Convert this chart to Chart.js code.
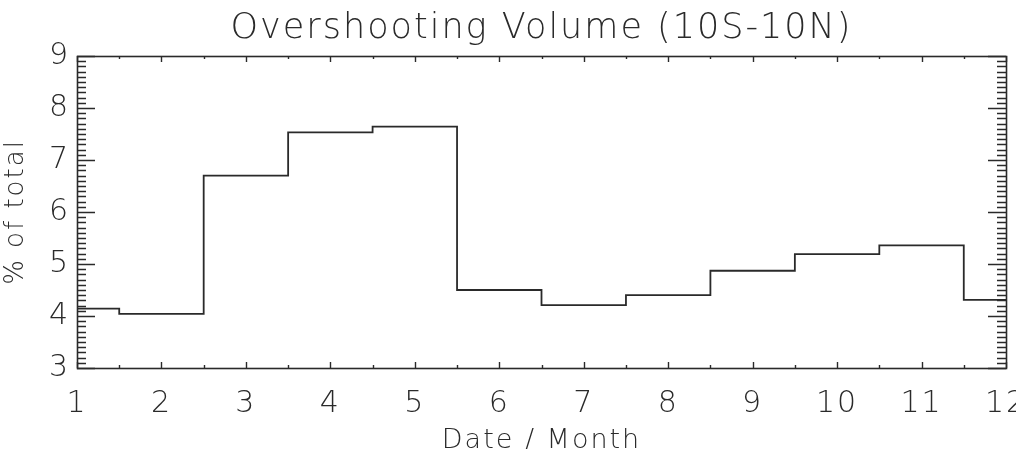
<!DOCTYPE html>
<html>
<head>
<meta charset="utf-8">
<script src="https://cdn.jsdelivr.net/npm/chart.js@4.4.1/dist/chart.umd.min.js"></script>
<style>
  html, body { margin: 0; padding: 0; background: #ffffff; }
  #wrap { width: 1016px; height: 449px; position: relative; }
</style>
</head>
<body>
<div id="wrap"><canvas id="c" width="1016" height="449"></canvas></div>
<script>
// ---- data ----
const MONTHS = [1, 2, 3, 4, 5, 6, 7, 8, 9, 10, 11, 12];
const OVERSHOOT_PCT = [4.14, 4.04, 6.70, 7.53, 7.64, 4.50, 4.21, 4.40, 4.87, 5.19, 5.36, 4.31];
const X_TICKS = [1, 2, 3, 4, 5, 6, 7, 8, 9, 10, 11, 12];
const Y_TICKS = [3, 4, 5, 6, 7, 8, 9];
const TITLE = 'Overshooting Volume (10S-10N)';
const X_TITLE = 'Date / Month';
const Y_TITLE = '% of total';

const FONT = '"DejaVu Sans", "Liberation Sans", sans-serif';
const INK = '#2a2a2a';

// IDL-style inward ticks + frame
const idlAxes = {
  id: 'idlAxes',
  beforeDraw(chart) { chart.ctx.letterSpacing = '2px'; },
  afterDatasetsDraw(chart) {
    const ctx = chart.ctx, ca = chart.chartArea;
    const xs = chart.scales.x, ys = chart.scales.y;
    ctx.save();
    ctx.letterSpacing = '0px';
    ctx.strokeStyle = INK;
    ctx.lineWidth = 1.4;
    ctx.beginPath();
    for (let i = 0; i < X_TICKS.length; i++) {
      const px = Math.round(xs.getPixelForValue(X_TICKS[i])) + 0.5;
      ctx.moveTo(px, ca.bottom); ctx.lineTo(px, ca.bottom - 6);
      ctx.moveTo(px, ca.top); ctx.lineTo(px, ca.top + 6);
      if (i < X_TICKS.length - 1) {
        const pm = Math.round(xs.getPixelForValue((X_TICKS[i] + X_TICKS[i + 1]) / 2)) + 0.5;
        ctx.moveTo(pm, ca.bottom); ctx.lineTo(pm, ca.bottom - 3);
        ctx.moveTo(pm, ca.top); ctx.lineTo(pm, ca.top + 3);
      }
    }
    for (let i = 0; i < Y_TICKS.length; i++) {
      const py = Math.round(ys.getPixelForValue(Y_TICKS[i])) + 0.5;
      ctx.moveTo(ca.left, py); ctx.lineTo(ca.left + 18, py);
      ctx.moveTo(ca.right, py); ctx.lineTo(ca.right - 18, py);
      if (i < Y_TICKS.length - 1) {
        for (let k = 1; k < 10; k++) {
          const v = Y_TICKS[i] + (Y_TICKS[i + 1] - Y_TICKS[i]) * k / 10;
          const pm = Math.round(ys.getPixelForValue(v)) + 0.5;
          ctx.moveTo(ca.left, pm); ctx.lineTo(ca.left + 9, pm);
          ctx.moveTo(ca.right, pm); ctx.lineTo(ca.right - 9, pm);
        }
      }
    }
    ctx.stroke();
    ctx.lineWidth = 1.6;
    ctx.strokeRect(Math.round(ca.left) + 0.5, Math.round(ca.top) + 0.5,
                   Math.round(ca.width), Math.round(ca.height));
    ctx.restore();
  }
};

new Chart(document.getElementById('c'), {
  type: 'line',
  data: {
    datasets: [{
      data: MONTHS.map((m, i) => ({ x: m, y: OVERSHOOT_PCT[i] })),
      stepped: 'middle',
      borderColor: INK,
      borderWidth: 1.8,
      pointRadius: 0,
      fill: false,
      clip: false
    }]
  },
  options: {
    responsive: false,
    animation: false,
    devicePixelRatio: 1,
    layout: { padding: { top: 0, left: 0, right: 10, bottom: 0 } },
    plugins: {
      legend: { display: false },
      tooltip: { enabled: false },
      title: {
        display: true,
        text: TITLE,
        fullSize: false,
        color: INK,
        font: { family: FONT, size: 35, weight: '200', lineHeight: 1.2 },
        padding: { top: 8, bottom: 6 }
      }
    },
    scales: {
      x: {
        type: 'linear',
        min: 1, max: 12,
        grid: { display: false, drawTicks: false },
        border: { display: false },
        afterBuildTicks(s) { s.ticks = X_TICKS.map(v => ({ value: v })); },
        afterFit(s) { s.height = 81; s.paddingLeft = 0; s.paddingRight = 0; },
        ticks: {
          autoSkip: false, maxRotation: 0, minRotation: 0,
          padding: 18, color: INK,
          font: { family: FONT, size: 30, weight: '200' }
        },
        title: {
          display: true, text: X_TITLE, color: INK,
          font: { family: FONT, size: 27, weight: '200', lineHeight: 1 },
          padding: { top: 0, bottom: -5 }
        }
      },
      y: {
        type: 'linear',
        min: 3, max: 9,
        grid: { display: false, drawTicks: false },
        border: { display: false },
        afterBuildTicks(s) { s.ticks = Y_TICKS.map(v => ({ value: v })); },
        afterFit(s) { s.width = 77; s.paddingTop = 0; s.paddingBottom = 0; },
        ticks: {
          padding: 7, color: INK,
          font: { family: FONT, size: 30, weight: '200' }
        },
        title: {
          display: true, text: Y_TITLE, color: INK,
          font: { family: FONT, size: 26, weight: '200', lineHeight: 1 },
          padding: { top: 3, bottom: 0 }
        }
      }
    }
  },
  plugins: [idlAxes]
});
</script>
</body>
</html>
